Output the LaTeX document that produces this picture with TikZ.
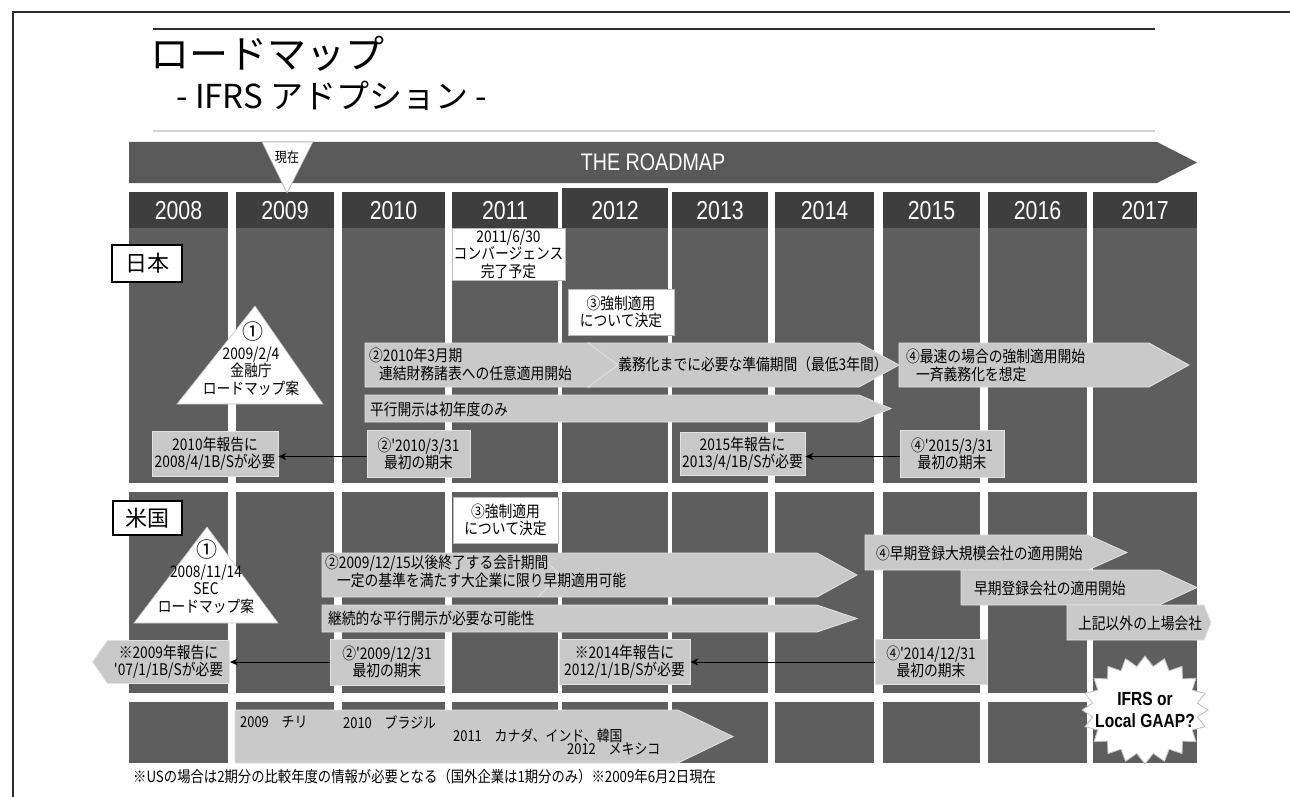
\documentclass[tikz,border=0pt]{standalone}
\usepackage{fontspec}
\setmainfont{Noto Sans CJK JP}
\newfontfamily\jpn[FakeStretch=0.86]{Noto Sans CJK JP}
\newfontfamily\narrow[FakeStretch=0.82]{Liberation Sans}
\usetikzlibrary{shapes.symbols,arrows.meta}
\definecolor{panelc}{HTML}{5E5E5E}
\definecolor{hdrc}{HTML}{3E3E3E}
\definecolor{roadc}{HTML}{595959}
\definecolor{lightc}{HTML}{C9C9C9}
\definecolor{edgec}{HTML}{E2E2E2}
\definecolor{framec}{HTML}{2E2E2E}
\tikzset{
  lt/.style={fill=lightc, draw=edgec, line width=0.8pt},
  ltbox/.style={fill=lightc, draw=edgec, line width=0.8pt, inner sep=0, align=center,
    font=\jpn\fontsize{16}{17}\selectfont},
  wbox/.style={fill=white, draw=gray!55, line width=0.6pt, inner sep=0, align=center,
    font=\jpn\fontsize{16}{17.5}\selectfont},
  lbl/.style={fill=white, draw=black, line width=1.2pt, inner sep=0,
    font=\fontsize{22}{24}\selectfont},
  tl/.style={inner sep=0, align=left, anchor=west, font=\jpn\fontsize{16}{18}\selectfont},
  tc/.style={inner sep=0, align=center, font=\jpn\fontsize{16}{17.5}\selectfont},
  yearlbl/.style={text=white, inner sep=0, font=\narrow\fontsize{26}{26}\selectfont},
  conn/.style={-{Stealth[length=8pt,width=7pt]}, line width=1pt, black},
  tri/.style={fill=white, draw=gray!45, line width=0.6pt}
}
\begin{document}
\begin{tikzpicture}[x=1pt,y=-1pt]
\useasboundingbox (0,0) rectangle (1290,797);
\fill[white] (0,0) rectangle (1290,797);
% frame
\draw[framec,line width=2.2pt] (13,797) -- (13,12) -- (1290,12);
% title
\draw[framec,line width=1.2pt] (153,29) -- (1155,29);
\node[anchor=west,inner sep=0,font=\fontsize{39}{40}\selectfont] (title) at (150,54) {ロードマップ};
\node[anchor=west,inner sep=0,font=\fontsize{33}{36}\selectfont] (subtitle) at (176,96) {- IFRS アドプション -};
\draw[gray!35,line width=2pt] (153,131) -- (1155,131);
% roadmap arrow
\fill[roadc] (129,142) -- (1157,142) -- (1197,162.5) -- (1157,183) -- (129,183) -- cycle;
\node[text=white,inner sep=0,font=\narrow\fontsize{24}{24}\selectfont] (roadmap) at (653,162) {THE ROADMAP};
% columns
\foreach \l/\r/\yr/\t in {129/228/2008/192, 236/334/2009/192, 342/445/2010/192, 452/558/2011/192,
  562/668/2012/188, 672/768/2013/192, 775/874/2014/192, 883/980/2015/192, 988/1087/2016/192, 1093/1197/2017/192}{
  \fill[hdrc] (\l,\t) rectangle (\r,228);
  \fill[panelc] (\l,228) rectangle (\r,483);
  \fill[panelc] (\l,492) rectangle (\r,693);
  \fill[panelc] (\l,702) rectangle (\r,763);
  \node[yearlbl] (y\yr) at ({(\l+\r)/2},211) {\yr};
}
% now marker
\draw[tri,draw=gray!70] (262,142) -- (313,142) -- (287,193) -- cycle;
\node[inner sep=0,font=\jpn\fontsize{14}{14}\selectfont] (now) at (287,157) {現在};

% ================= Japan =================
\node[lbl,minimum width=70pt,minimum height=37pt] (jp) at (147,263.5) {日本};
\node[wbox,minimum width=113pt,minimum height=52pt] (conv) at (508.5,254) {2011/6/30\\コンバージェンス\\完了予定};
\node[wbox,minimum width=106pt,minimum height=46pt] (jp3) at (621,312) {③強制適用\\について決定};
\draw[tri] (255,306) -- (323,404) -- (177,404) -- cycle;
\node[inner sep=0,font=\fontsize{21}{22}\selectfont] (jp1n) at (253,332) {①};
\node[tc] (jp1) at (251,371) {2009/2/4\\金融庁\\ロードマップ案};
% arrows
\draw[lt] (365,343) -- (590,343) -- (618,365) -- (590,387) -- (365,387) -- cycle;
\draw[lt] (588,343) -- (859,343) -- (899,365) -- (859,387) -- (588,387) -- (618,365) -- cycle;
\draw[lt] (899,343) -- (1149,343) -- (1189,365) -- (1149,387) -- (899,387) -- cycle;
\node[tl] (jp2a) at (369,364) {②2010年3月期\\\hspace*{10pt}連結財務諸表への任意適用開始};
\node[tc] (jpprep) at (753,364) {義務化までに必要な準備期間（最低3年間）};
\node[tl] (jp4a) at (906,365) {④最速の場合の強制適用開始\\\hspace*{10pt}一斉義務化を想定};
\draw[lt] (365,395) -- (859,395) -- (891,408.5) -- (859,422) -- (365,422) -- cycle;
\node[tl] (jppar) at (370,409) {平行開示は初年度のみ};
% boxes
\node[ltbox,minimum width=126pt,minimum height=45pt] (jprep10) at (215,453.5) {2010年報告に\\2008/4/1B/Sが必要};
\node[ltbox,minimum width=103pt,minimum height=47pt] (jpend2) at (418.5,453.5) {②'2010/3/31\\最初の期末};
\node[ltbox,minimum width=125pt,minimum height=43pt] (jprep15) at (742.5,453.5) {2015年報告に\\2013/4/1B/Sが必要};
\node[ltbox,minimum width=104pt,minimum height=47pt] (jpend4) at (952,453.5) {④'2015/3/31\\最初の期末};
\draw[conn] ([yshift=-3pt]jpend2.west) -- ([yshift=-3pt]jprep10.east);
\draw[conn] ([yshift=-3pt]jpend4.west) -- ([yshift=-3pt]jprep15.east);

% ================= US =================
\node[lbl,minimum width=69pt,minimum height=34pt] (us) at (147.5,518) {米国};
\node[wbox,minimum width=105pt,minimum height=46pt] (us3) at (505.5,520) {③強制適用\\について決定};
\draw[tri] (207,527) -- (278,623) -- (134,623) -- cycle;
\node[inner sep=0,font=\fontsize{21}{22}\selectfont] (us1n) at (207,550) {①};
\node[tc] (us1) at (206,589) {2008/11/14\\SEC\\ロードマップ案};
\draw[lt] (322,553) -- (817,553) -- (857,575) -- (817,597) -- (322,597) -- cycle;
\draw[edgec,line width=0.8pt] (538,553) -- (560,575) -- (538,597);
\node[tl] (us2a) at (325,571) {②2009/12/15以後終了する会計期間\\\hspace*{12pt}一定の基準を満たす大企業に限り早期適用可能};
\draw[lt] (322,605) -- (817,605) -- (857,618.5) -- (817,632) -- (322,632) -- cycle;
\node[tl] (uspar) at (328,618.5) {継続的な平行開示が必要な可能性};
\draw[lt] (865,535) -- (1088,535) -- (1127,552.5) -- (1088,570) -- (865,570) -- cycle;
\node[tl] (us4a) at (876,553) {④早期登録大規模会社の適用開始};
\draw[lt] (961,570) -- (1159,570) -- (1197,587.5) -- (1159,605) -- (961,605) -- cycle;
\node[tl] (us4b) at (974,588) {早期登録会社の適用開始};
\draw[lt] (1067,605) -- (1204,605) -- (1211,622.5) -- (1204,640) -- (1067,640) -- cycle;
\node[tl] (us4c) at (1078,623) {上記以外の上場会社};
% boxes
\node[signal,signal to=west,signal pointer angle=110,fill=lightc,draw=edgec,line width=0.8pt,
  minimum width=137pt,minimum height=43pt,inner sep=0,align=center,
  font=\jpn\fontsize{16}{17}\selectfont] (usrep09) at (168.5,662) {※2009年報告に\\'07/1/1B/Sが必要};
\node[ltbox,minimum width=114pt,minimum height=46pt] (usend2) at (387,662) {②'2009/12/31\\最初の期末};
\node[ltbox,minimum width=131pt,minimum height=45pt] (usrep14) at (624.5,662) {※2014年報告に\\2012/1/1B/Sが必要};
\node[ltbox,minimum width=112pt,minimum height=45pt] (usend4) at (931,662) {④'2014/12/31\\最初の期末};
\draw[conn] (usend2.west) -- (usrep09.east);
\draw[conn] (usend4.west) -- (usrep14.east);

% ================= others =================
\draw[lt] (235,710) -- (678,710) -- (733,736.5) -- (678,763) -- (235,763) -- cycle;
\node[tl,font=\jpn\fontsize{15}{16}\selectfont] (chile) at (240,722) {2009　チリ};
\node[tl,font=\jpn\fontsize{15}{16}\selectfont] (brazil) at (343,722) {2010　ブラジル};
\node[tl,font=\jpn\fontsize{15}{16}\selectfont] (canada) at (453,736) {2011　カナダ、インド、韓国};
\node[tl,font=\jpn\fontsize{15}{16}\selectfont] (mexico) at (567,749) {2012　メキシコ};
% starburst
\filldraw[fill=white,draw=gray!50,line width=0.8pt]
  plot[samples=41,domain=0:40,variable=\k]
  ({1145+(63-10*mod(\k,2))*cos(\k*360/40)},{710+(54-10*mod(\k,2))*sin(\k*360/40)}) -- cycle;
\node[inner sep=0,align=center,font=\narrow\bfseries\fontsize{19}{22}\selectfont] (gaap) at (1145,710) {IFRS or\\Local GAAP?};
% footnote
\node[tl,font=\jpn\fontsize{15.5}{17}\selectfont] (note) at (133,777) {※USの場合は2期分の比較年度の情報が必要となる（国外企業は1期分のみ）※2009年6月2日現在};
\end{tikzpicture}
\end{document}
